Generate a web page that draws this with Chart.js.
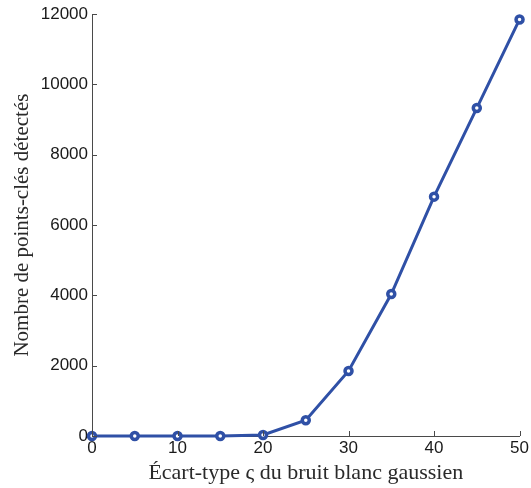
<!DOCTYPE html>
<html>
<head>
<meta charset="utf-8">
<script src="https://cdn.jsdelivr.net/npm/chart.js@4/dist/chart.umd.min.js"></script>
<style>
  html, body { margin: 0; padding: 0; background: #fff; }
  #wrap { width: 531px; height: 488px; }
</style>
</head>
<body>
<div id="wrap"><canvas id="chart" width="531" height="488"></canvas></div>
<script>
// Data
const sigmaValues = [0, 5, 10, 15, 20, 25, 30, 35, 40, 45, 50];
const keypointCounts = [0, 0, 0, 0, 30, 450, 1850, 4040, 6810, 9330, 11850];
const xTicks = [0, 10, 20, 30, 40, 50];
const yTicks = [0, 2000, 4000, 6000, 8000, 10000, 12000];

const lineColor = '#2f50a6';
const axisColor = '#4a4a4a';
const tickFont = { family: "'Liberation Sans', Arial, sans-serif", size: 17 };

// MATLAB-style ticks drawn inside the axes
const inwardTicks = {
    id: 'inwardTicks',
    afterDatasetsDraw(chart) {
        const ctx = chart.ctx;
        const { x, y } = chart.scales;
        const area = chart.chartArea;
        ctx.save();
        ctx.strokeStyle = axisColor;
        ctx.lineWidth = 1;
        ctx.beginPath();
        xTicks.forEach(v => {
            const px = Math.round(x.getPixelForValue(v)) + 0.5;
            ctx.moveTo(px, area.bottom);
            ctx.lineTo(px, area.bottom - 5);
        });
        yTicks.forEach(v => {
            const py = Math.round(y.getPixelForValue(v)) + 0.5;
            ctx.moveTo(area.left, py);
            ctx.lineTo(area.left + 5, py);
        });
        ctx.stroke();
        ctx.restore();
    }
};

new Chart(document.getElementById('chart'), {
    type: 'line',
    data: {
        labels: sigmaValues,
        datasets: [{
            data: sigmaValues.map((s, i) => ({ x: s, y: keypointCounts[i] })),
            borderColor: lineColor,
            borderWidth: 3,
            pointRadius: 3.5,
            pointBorderWidth: 3.5,
            pointBackgroundColor: '#ffffff',
            pointBorderColor: lineColor,
            tension: 0,
            clip: false
        }]
    },
    options: {
        responsive: false,
        animation: false,
        layout: { padding: { top: 14, right: 11, left: 0, bottom: 0 } },
        plugins: {
            legend: { display: false },
            tooltip: { enabled: false }
        },
        scales: {
            x: {
                type: 'linear',
                min: 0,
                max: 50,
                afterBuildTicks: s => { s.ticks = xTicks.map(v => ({ value: v })); },
                afterFit: s => { s.height = 52; },
                grid: { display: false, drawTicks: false },
                border: { display: true, color: axisColor, width: 1 },
                ticks: {
                    color: '#1a1a1a',
                    padding: 2,
                    maxRotation: 0,
                    font: tickFont,
                    callback: v => String(v)
                },
                title: {
                    display: true,
                    text: 'Écart-type ς du bruit blanc gaussien',
                    color: '#2a2a2a',
                    padding: { top: 0, bottom: 2 },
                    font: { family: "'Liberation Serif', serif", size: 22 }
                }
            },
            y: {
                min: 0,
                max: 12000,
                afterBuildTicks: s => { s.ticks = yTicks.map(v => ({ value: v })); },
                afterFit: s => { s.width = 92; },
                grid: { display: false, drawTicks: false },
                border: { display: true, color: axisColor, width: 1 },
                ticks: {
                    color: '#1a1a1a',
                    padding: 4,
                    font: tickFont,
                    callback: v => String(v)
                },
                title: {
                    display: true,
                    text: 'Nombre de points-clés détectés',
                    color: '#2a2a2a',
                    padding: { top: 10, bottom: 0 },
                    font: { family: "'Liberation Serif', serif", size: 21 }
                }
            }
        }
    },
    plugins: [inwardTicks]
});
</script>
</body>
</html>
